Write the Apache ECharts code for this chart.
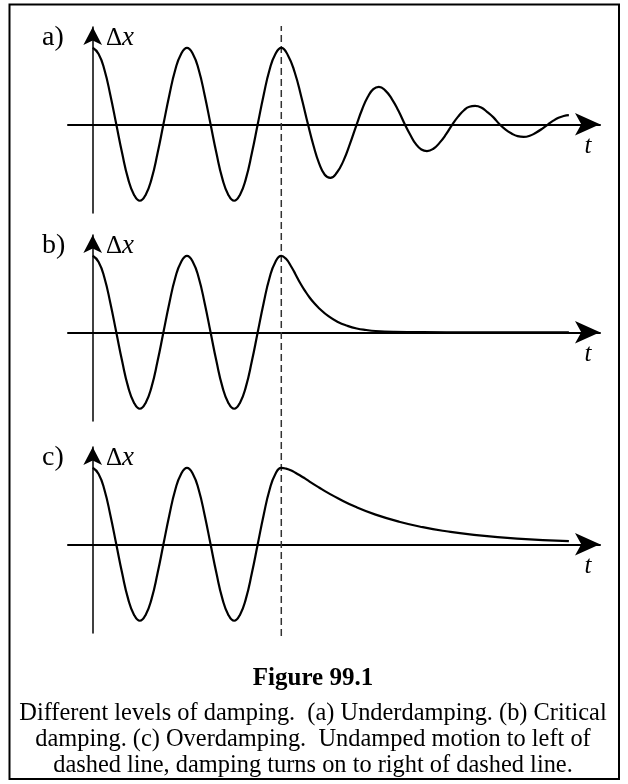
<!DOCTYPE html>
<html>
<head>
<meta charset="utf-8">
<script src="https://cdn.jsdelivr.net/npm/echarts@6/dist/echarts.min.js"></script>
<style>
  html, body { margin: 0; padding: 0; background: #fff; }
  #chart { width: 628px; height: 784px; }
</style>
</head>
<body>
<div id="chart"></div>
<script>
// time in units of one undamped period, displacement in units of the amplitude

// undamped motion, left of the dashed line (same in all three panels)
var tFree = [0, 0.0625, 0.125, 0.1875, 0.25, 0.3125, 0.375, 0.4375, 0.5, 0.5625, 0.625, 0.6875, 0.75, 0.8125, 0.875, 0.9375,
  1, 1.0625, 1.125, 1.1875, 1.25, 1.3125, 1.375, 1.4375, 1.5, 1.5625, 1.625, 1.6875, 1.75, 1.8125, 1.875, 1.9375, 2];
var xFree = [1, 0.92, 0.71, 0.38, 0, -0.38, -0.71, -0.92, -1, -0.92, -0.71, -0.38, 0, 0.38, 0.71, 0.92,
  1, 0.92, 0.71, 0.38, 0, -0.38, -0.71, -0.92, -1, -0.92, -0.71, -0.38, 0, 0.38, 0.71, 0.92, 1];

// (a) underdamped, right of the dashed line
var tUnder = [2.071, 2.142, 2.212, 2.283, 2.342, 2.401, 2.461, 2.52, 2.59, 2.66, 2.73, 2.8, 2.859, 2.918, 2.976, 3.035,
  3.104, 3.173, 3.241, 3.31, 3.369, 3.428, 3.486, 3.545, 3.613, 3.68, 3.748, 3.815, 3.875, 3.935, 3.995, 4.055,
  4.12, 4.185, 4.25, 4.315, 4.379, 4.442, 4.506, 4.57, 4.635, 4.7, 4.765, 4.83, 4.885, 4.94, 4.995, 5.05];
var xUnder = [0.9, 0.68, 0.36, 0, -0.28, -0.51, -0.66, -0.7, -0.63, -0.475, -0.25, 0, 0.2, 0.36, 0.46, 0.49,
  0.44, 0.33, 0.18, 0, -0.14, -0.26, -0.33, -0.35, -0.32, -0.24, -0.13, 0, 0.1, 0.18, 0.23, 0.24,
  0.22, 0.16, 0.09, 0, -0.07, -0.12, -0.155, -0.165, -0.15, -0.11, -0.06, 0, 0.047, 0.085, 0.108, 0.12];

// (b) critically damped
var tCrit = [2.05, 2.1, 2.15, 2.2, 2.25, 2.3, 2.35, 2.4, 2.5, 2.6, 2.7, 2.8, 2.9, 3.0, 3.2, 3.5, 4.0, 5.05];
var xCrit = [0.96, 0.87, 0.76, 0.645, 0.545, 0.455, 0.38, 0.315, 0.21, 0.135, 0.085, 0.05, 0.03, 0.017, 0.006, 0.001, 0, 0];

// (c) overdamped
var tOver = [2.05, 2.1, 2.15, 2.2, 2.25, 2.3, 2.4, 2.5, 2.6, 2.8, 3.0, 3.25, 3.5, 3.75, 4.0, 4.5, 5.05];
var xOver = [0.99, 0.968, 0.936, 0.9, 0.861, 0.82, 0.743, 0.669, 0.601, 0.483, 0.388, 0.295, 0.224, 0.17, 0.129, 0.074, 0.041];

var tDashed = [2, 2];
var panelNames = ['a)', 'b)', 'c)'];
var captionTitle = 'Figure 99.1';
var captionLines = [
  'Different levels of damping.  (a) Underdamping. (b) Critical',
  'damping. (c) Overdamping.  Undamped motion to left of',
  'dashed line, damping turns on to right of dashed line.'
];

function zip(ts, xs) {
  var out = [];
  for (var i = 0; i < ts.length; i++) out.push([ts[i], xs[i]]);
  return out;
}

var panelTops = [27, 235, 447];
var serif = '"Liberation Serif", "DejaVu Serif", serif';

var grids = [], xAxes = [], yAxes = [], series = [], graphics = [];
var curves = [zip(tFree, xFree).concat(zip(tUnder, xUnder)),
  zip(tFree, xFree).concat(zip(tCrit, xCrit)),
  zip(tFree, xFree).concat(zip(tOver, xOver))];

panelTops.forEach(function (top, i) {
  grids.push({ left: 68, width: 532, top: top, height: 186 });
  xAxes.push({
    type: 'value', gridIndex: i, min: -0.262, max: 5.38,
    axisLine: { show: true, onZero: true, symbol: ['none', 'arrow'], symbolSize: [17, 25],
      lineStyle: { color: '#000', width: 2 } },
    axisTick: { show: false }, axisLabel: { show: false }, splitLine: { show: false }
  });
  yAxes.push({
    type: 'value', gridIndex: i, min: -1.16, max: 1.272,
    axisLine: { show: true, onZero: true, symbol: ['none', 'arrow'], symbolSize: [14, 18],
      lineStyle: { color: '#000', width: 1.5 } },
    axisTick: { show: false }, axisLabel: { show: false }, splitLine: { show: false }
  });
  series.push({
    type: 'line', xAxisIndex: i, yAxisIndex: i, data: curves[i],
    smooth: 0.5, showSymbol: false, silent: true,
    lineStyle: { color: '#000', width: 2.2 }
  });
  var dy = top - 27;
  graphics.push({ type: 'text', x: 42, y: 38 + dy,
    style: { text: panelNames[i], font: '28px ' + serif, fill: '#000', align: 'left', verticalAlign: 'middle', textAlign: 'left', textVerticalAlign: 'middle' } });
  graphics.push({ type: 'text', x: 106, y: 38 + dy,
    style: { text: '{n|Δ}{i|x}', fill: '#000', align: 'left', verticalAlign: 'middle', textAlign: 'left', textVerticalAlign: 'middle',
      rich: { n: { fontSize: 25, fontFamily: serif }, i: { fontSize: 27, fontFamily: serif, fontStyle: 'italic' } } } });
  graphics.push({ type: 'text', x: 588, y: 146 + dy,
    style: { text: 't', font: 'italic 25px ' + serif, fill: '#000', align: 'center', verticalAlign: 'middle', textAlign: 'center', textVerticalAlign: 'middle' } });
});

// dashed line that runs through all three panels
grids.push({ left: 68, width: 532, top: 26, height: 610 });
xAxes.push({ type: 'value', gridIndex: 3, min: -0.262, max: 5.38, show: false });
yAxes.push({ type: 'value', gridIndex: 3, min: 0, max: 1, show: false });
series.push({
  type: 'line', xAxisIndex: 3, yAxisIndex: 3, data: zip(tDashed, [0, 1]),
  showSymbol: false, silent: true, z: 1,
  lineStyle: { color: '#333', width: 1.5, type: [7, 4] }
});

// frame and caption
graphics.push({ type: 'rect', shape: { x: 9.5, y: 4.5, width: 609.5, height: 774.5 },
  style: { fill: 'none', stroke: '#000', lineWidth: 2 } });
graphics.push({ type: 'text', x: 313, y: 679,
  style: { text: captionTitle, font: 'bold 25px ' + serif, fill: '#000', align: 'center', verticalAlign: 'middle', textAlign: 'center', textVerticalAlign: 'middle' } });
captionLines.forEach(function (line, k) {
  graphics.push({ type: 'text', x: 313, y: 714 + k * 26,
    style: { text: line, font: '24.4px ' + serif, fill: '#000', align: 'center', verticalAlign: 'middle', textAlign: 'center', textVerticalAlign: 'middle' } });
});

var myChart = echarts.init(document.getElementById('chart'));
myChart.setOption({
  animation: false,
  backgroundColor: '#fff',
  grid: grids,
  xAxis: xAxes,
  yAxis: yAxes,
  series: series,
  graphic: { elements: graphics }
});
</script>
</body>
</html>
